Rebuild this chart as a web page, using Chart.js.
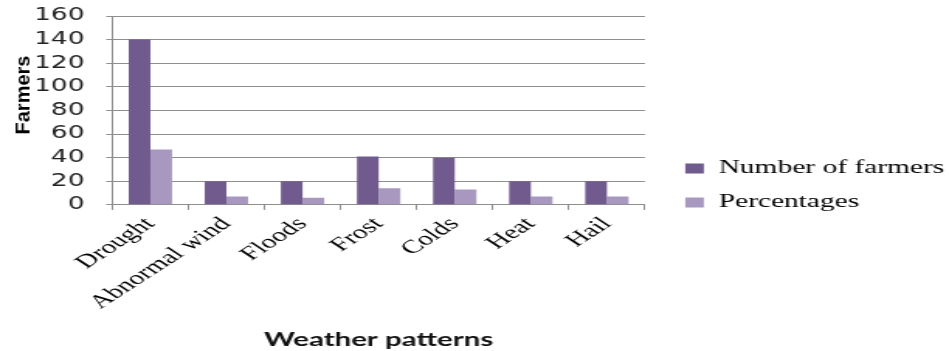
<!DOCTYPE html>
<html>
<head>
<meta charset="utf-8">
<script src="https://cdn.jsdelivr.net/npm/chart.js@4/dist/chart.umd.min.js"></script>
<style>
  html, body { margin: 0; padding: 0; background: #ffffff; overflow: hidden; }
  /* the chart is laid out on a narrower canvas and widened horizontally */
  #wrap { width: 612px; height: 351px; transform: scaleX(1.5507); transform-origin: 0 0; }
  canvas { display: block; }
</style>
</head>
<body>
<div id="wrap"><canvas id="chart" width="612" height="351"></canvas></div>
<script>
const categories = ['Drought', 'Abnormal wind', 'Floods', 'Frost', 'Colds', 'Heat', 'Hail'];
const farmers = [140, 20, 20, 41, 40, 20, 20];
const percentages = [47, 7, 6, 14, 13, 7, 7];
const yTickValues = [0, 20, 40, 60, 80, 100, 120, 140, 160];
const seriesNames = ['Number of farmers', 'Percentages'];
const yTitle = 'Farmers';
const xTitle = 'Weather patterns';

const GRID = '#8e8e8e';

// vertical "Farmers" title, drawn condensed beside the value axis
const sideTitle = {
  id: 'sideTitle',
  afterDraw(chart) {
    const { ctx, chartArea } = chart;
    ctx.save();
    ctx.translate(chartArea.left - 57, chartArea.top + 79);
    ctx.scale(0.66, 1);
    ctx.rotate(-Math.PI / 2);
    ctx.font = 'bold 20px "Liberation Sans", Arial, sans-serif';
    ctx.fillStyle = '#000000';
    ctx.textAlign = 'center';
    ctx.textBaseline = 'middle';
    ctx.fillText(yTitle, 0, 0);
    ctx.restore();
  }
};

// move the legend block a little right and down from its default spot
const legendNudge = {
  id: 'legendNudge',
  afterLayout(chart) {
    const l = chart.legend;
    if (!l) return;
    l.left += 11; l.right += 11;
    l.top += 2; l.bottom += 2;
  }
};

new Chart(document.getElementById('chart'), {
  type: 'bar',
  data: {
    labels: categories,
    datasets: [
      { label: seriesNames[0], data: farmers, backgroundColor: '#705a8e', borderWidth: 0 },
      { label: seriesNames[1], data: percentages, backgroundColor: '#a898bf', borderWidth: 0 }
    ]
  },
  options: {
    responsive: false,
    animation: false,
    devicePixelRatio: 1,
    categoryPercentage: 0.57,
    barPercentage: 1.0,
    layout: { autoPadding: false, padding: { left: 8, right: 4, top: 16, bottom: 0 } },
    plugins: {
      legend: {
        position: 'right',
        align: 'center',
        maxWidth: 220,
        labels: {
          boxWidth: 12,
          boxHeight: 10,
          padding: 15,
          color: '#000000',
          font: { family: '"Liberation Serif", "Times New Roman", serif', size: 19 }
        }
      },
      tooltip: { enabled: false },
      title: { display: false }
    },
    scales: {
      x: {
        grid: { drawOnChartArea: false, drawTicks: true, tickLength: 5, color: GRID, offset: true },
        border: { color: GRID, width: 1 },
        ticks: {
          autoSkip: false,
          minRotation: 45,
          maxRotation: 45,
          padding: 3,
          color: '#000000',
          font: { family: '"Liberation Serif", "Times New Roman", serif', size: 19 }
        },
        title: {
          display: true,
          text: xTitle,
          color: '#111111',
          font: { family: 'Lato, "Liberation Sans", sans-serif', size: 19, weight: 'bold' },
          padding: { top: 11.5, bottom: 0 }
        }
      },
      y: {
        min: yTickValues[0],
        max: yTickValues[yTickValues.length - 1],
        afterBuildTicks(scale) {
          scale.ticks = yTickValues.map(v => ({ value: v }));
        },
        afterFit(scale) {
          // the top label fits inside the outer padding already
          scale.paddingTop = 0;
          scale.paddingBottom = 0;
        },
        grid: { color: GRID, lineWidth: 1, drawTicks: true, tickLength: 4 },
        border: { color: GRID, width: 1 },
        ticks: {
          autoSkip: false,
          padding: 14,
          color: '#222222',
          font: { family: 'DejaVu Sans, Verdana, sans-serif', size: 17 }
        },
        title: { display: false }
      }
    }
  },
  plugins: [sideTitle, legendNudge]
});
</script>
</body>
</html>
